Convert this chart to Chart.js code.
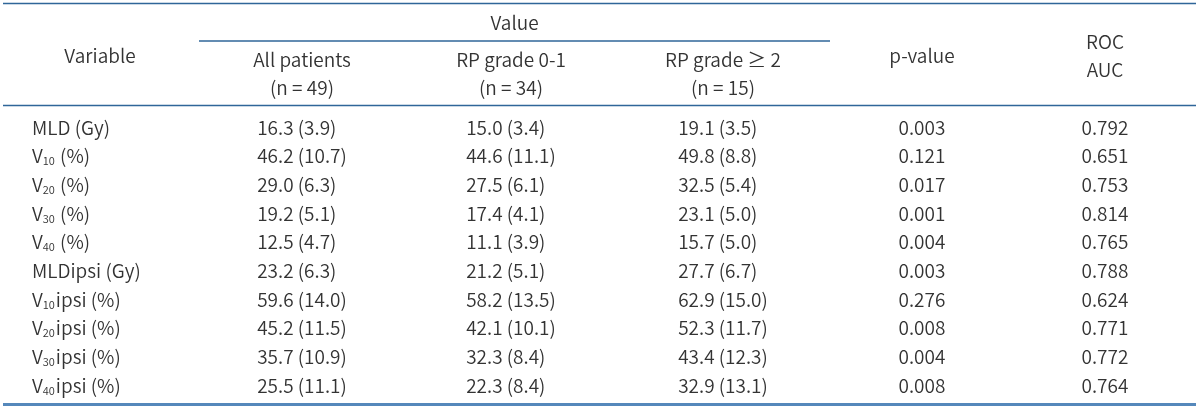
<!DOCTYPE html>
<html>
<head>
<meta charset="utf-8">
<script src="https://cdn.jsdelivr.net/npm/chart.js@4.4.1/dist/chart.umd.min.js"></script>
<style>
  html, body { margin: 0; padding: 0; background: #fff; }
  #wrap { width: 1200px; height: 408px; position: relative; }
</style>
</head>
<body>
<div id="wrap"><canvas id="tbl"></canvas></div>
<script>
// table content
const columns = ["Variable", "All patients", "RP grade 0-1", "RP grade \u2265 2", "p-value", "ROC AUC"];
const headerLines = [
  ["Variable"],
  ["All patients", "(n = 49)"],
  ["RP grade 0-1", "(n = 34)"],
  ["RP grade \u2265 2", "(n = 15)"],
  ["p-value"],
  ["ROC", "AUC"]
];
const groupLabel = "Value";

const variables = [
  "MLD (Gy)", "V_{10} (%)", "V_{20} (%)", "V_{30} (%)", "V_{40} (%)",
  "MLDipsi (Gy)", "V_{10}ipsi (%)", "V_{20}ipsi (%)", "V_{30}ipsi (%)", "V_{40}ipsi (%)"
];
const allPatients = ["16.3 (3.9)", "46.2 (10.7)", "29.0 (6.3)", "19.2 (5.1)", "12.5 (4.7)",
                     "23.2 (6.3)", "59.6 (14.0)", "45.2 (11.5)", "35.7 (10.9)", "25.5 (11.1)"];
const grade01 = ["15.0 (3.4)", "44.6 (11.1)", "27.5 (6.1)", "17.4 (4.1)", "11.1 (3.9)",
                 "21.2 (5.1)", "58.2 (13.5)", "42.1 (10.1)", "32.3 (8.4)", "22.3 (8.4)"];
const grade2 = ["19.1 (3.5)", "49.8 (8.8)", "32.5 (5.4)", "23.1 (5.0)", "15.7 (5.0)",
                "27.7 (6.7)", "62.9 (15.0)", "52.3 (11.7)", "43.4 (12.3)", "32.9 (13.1)"];
const pValues = ["0.003", "0.121", "0.017", "0.001", "0.004", "0.003", "0.276", "0.008", "0.004", "0.008"];
const rocAuc = ["0.792", "0.651", "0.753", "0.814", "0.765", "0.788", "0.624", "0.771", "0.772", "0.764"];

const columnValues = [variables, allPatients, grade01, grade2, pValues, rocAuc];

// styling
const FONT = '"Noto Sans CJK KR", "Noto Sans", sans-serif';
const WEIGHT = "350 ";
const TEXT = "#333333";
const RULE = "#2f6699";
const RULE_BOTTOM = "#5588bb";
const FS = 19;
const SUB_FS = 11;
const headerDx = [0, 2, 11, 23, 22, 5];   // nudges from category centre
const variableLeftDx = -68;

const font = (s) => WEIGHT + s + "px " + FONT;

function drawRich(ctx, str, x, y){
  // "V_{10}ipsi (%)" -> segments with subscript
  const parts = str.split(/(_\{[^}]*\})/).filter(Boolean);
  let cx = x;
  parts.forEach(p => {
    if (p.startsWith("_{")){
      ctx.font = font(SUB_FS);
      const t = p.slice(2, -1);
      ctx.fillText(t, cx, y + 5);
      cx += ctx.measureText(t).width + 1;
    } else {
      ctx.font = font(FS);
      ctx.fillText(p, cx, y);
      cx += ctx.measureText(p).width;
    }
  });
}

const tablePlugin = {
  id: "tablePlugin",
  afterDatasetsDraw(chart){
    const ctx = chart.ctx;
    const xs = chart.scales.x;
    const area = chart.chartArea;
    const cx = (i) => xs.getPixelForValue(i) + headerDx[i];

    ctx.save();
    ctx.fillStyle = TEXT;
    ctx.textBaseline = "middle";

    // rules
    const rule = (y, x0, x1, w, c) => {
      ctx.strokeStyle = c; ctx.lineWidth = w;
      ctx.beginPath(); ctx.moveTo(x0, y); ctx.lineTo(x1, y); ctx.stroke();
    };
    const L = 3, R = 1196;
    rule(area.top - 109.5, L, R, 1.6, RULE);
    rule(area.top - 72, cx(1) - 103, cx(3) + 107, 1.4, RULE);
    rule(area.top - 7.5, L, R, 1.6, RULE);
    rule(area.bottom + 4.5, L, R, 3, RULE_BOTTOM);

    // group header
    ctx.font = font(FS);
    ctx.textAlign = "center";
    ctx.fillText(groupLabel, (cx(1) - 103 + cx(3) + 107) / 2, area.top - 90);

    // column headers
    headerLines.forEach((lines, i) => {
      if (lines.length === 1){
        ctx.fillText(lines[0], cx(i), area.top - 57);
      } else if (i === 5){
        ctx.fillText(lines[0], cx(i), area.top - 71);
        ctx.fillText(lines[1], cx(i), area.top - 43);
      } else {
        ctx.fillText(lines[0], cx(i), area.top - 53);
        ctx.fillText(lines[1], cx(i), area.top - 25);
      }
    });

    // body cells, left aligned, block centred under header
    ctx.textAlign = "left";
    chart.data.datasets.forEach((ds, di) => {
      const meta = chart.getDatasetMeta(di);
      ctx.font = font(FS);
      let left;
      if (di === 0){
        left = xs.getPixelForValue(0) + variableLeftDx;
      } else {
        const w = Math.max(...ds.data.map(d => ctx.measureText(d.v).width));
        left = cx(di) - w / 2;
      }
      meta.data.forEach((pt, k) => {
        const d = ds.data[k];
        if (di === 0) drawRich(ctx, d.v, left, pt.y);
        else { ctx.font = font(FS); ctx.fillText(d.v, left, pt.y); }
      });
    });
    ctx.restore();
  }
};

const datasets = columns.map((col, ci) => ({
  label: col,
  data: variables.map((row, ri) => ({ x: col, y: row, v: columnValues[ci][ri] })),
  pointRadius: 0,
  pointHoverRadius: 0,
  showLine: false
}));

new Chart(document.getElementById("tbl"), {
  type: "scatter",
  data: { datasets },
  options: {
    responsive: true,
    maintainAspectRatio: false,
    animation: false,
    events: [],
    layout: { padding: { top: 113, bottom: 8, left: 0, right: 0 } },
    plugins: { legend: { display: false }, tooltip: { enabled: false } },
    scales: {
      x: { type: "category", labels: columns, offset: true, display: false },
      y: { type: "category", labels: variables, offset: true, display: false }
    }
  },
  plugins: [tablePlugin]
});
</script>
</body>
</html>
